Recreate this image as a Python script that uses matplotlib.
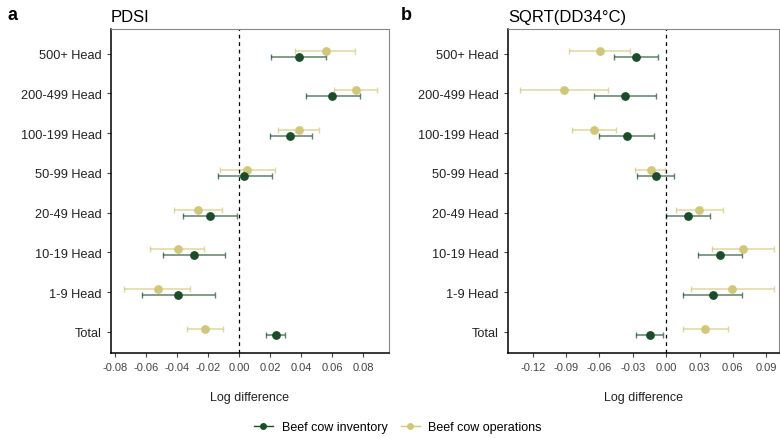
import numpy as np
import matplotlib.pyplot as plt
from matplotlib.lines import Line2D

cats = ['Total', '1-9 Head', '10-19 Head', '20-49 Head', '50-99 Head',
        '100-199 Head', '200-499 Head', '500+ Head']

# PDSI panel: estimate, lower, upper (order follows cats)
pdsi_inv = [0.0235, -0.0391, -0.029, -0.0187, 0.0032, 0.0331, 0.060, 0.0385]
pdsi_inv_lo = [0.017, -0.0623, -0.0488, -0.0365, -0.0139, 0.0198, 0.0428, 0.0205]
pdsi_inv_hi = [0.0297, -0.0155, -0.009, -0.0013, 0.0213, 0.0471, 0.078, 0.0561]
pdsi_ops = [-0.0217, -0.0525, -0.0397, -0.0268, 0.005, 0.0383, 0.0755, 0.0557]
pdsi_ops_lo = [-0.0333, -0.0742, -0.0576, -0.0423, -0.0122, 0.0248, 0.0613, 0.0357]
pdsi_ops_hi = [-0.0103, -0.0314, -0.0226, -0.011, 0.0232, 0.0516, 0.0888, 0.0749]

# SQRT(DD34) panel
dd_inv = [-0.015, 0.042, 0.0483, 0.0198, -0.009, -0.0354, -0.0372, -0.0267]
dd_inv_lo = [-0.0267, 0.0153, 0.0288, 0.0, -0.0258, -0.0607, -0.0652, -0.0465]
dd_inv_hi = [-0.0033, 0.0682, 0.0679, 0.0396, 0.0072, -0.0111, -0.009, -0.0072]
dd_ops = [0.0351, 0.0589, 0.0688, 0.0297, -0.0141, -0.0649, -0.0919, -0.0598]
dd_ops_lo = [0.0153, 0.0219, 0.0411, 0.009, -0.0276, -0.0844, -0.1312, -0.0877]
dd_ops_hi = [0.0553, 0.097, 0.097, 0.0514, -0.0009, -0.045, -0.0523, -0.0321]

pdsi_ticks = [-0.08, -0.06, -0.04, -0.02, 0.0, 0.02, 0.04, 0.06, 0.08]
dd_ticks = [-0.12, -0.09, -0.06, -0.03, 0.0, 0.03, 0.06, 0.09]

green = '#1b4d2b'
khaki = '#d1c77b'

plt.rcParams['font.family'] = ['Liberation Sans', 'DejaVu Sans']


def panel(ax, inv, inv_lo, inv_hi, ops, ops_lo, ops_hi, ticks, xlim):
    y = np.arange(1, len(cats) + 1)
    d = 0.075
    inv = np.array(inv); ops = np.array(ops)
    ax.errorbar(ops, y + d, xerr=[ops - np.array(ops_lo), np.array(ops_hi) - ops],
                fmt='none', ecolor=khaki, alpha=0.7, elinewidth=1.1, capsize=2.5, capthick=1)
    ax.errorbar(inv, y - d, xerr=[inv - np.array(inv_lo), np.array(inv_hi) - inv],
                fmt='none', ecolor=green, alpha=0.7, elinewidth=1.1, capsize=2.5, capthick=1)
    ax.plot(ops, y + d, 'o', color=khaki, ms=5.3, zorder=3)
    ax.plot(inv, y - d, 'o', color=green, ms=5.3, zorder=3)
    ax.axvline(0, color='black', linestyle=(0, (3, 3)), linewidth=0.9)
    ax.set_yticks(y)
    ax.set_yticklabels(cats, fontsize=9.2, color='#222222')
    ax.set_xticks(ticks)
    ax.set_xticklabels(['%.2f' % t for t in ticks], fontsize=8, color='#444444')
    ax.set_xlim(xlim)
    ax.set_ylim(0.47, 8.62)
    ax.set_xlabel('Log difference', fontsize=9, labelpad=14, color='#222222')
    ax.tick_params(length=3, color='#444444')
    for s in ['top', 'right']:
        ax.spines[s].set_color('#888888')
    for s in ['left', 'bottom']:
        ax.spines[s].set_color('black')
        ax.spines[s].set_linewidth(1.1)


fig = plt.figure(figsize=(7.8, 4.39), dpi=100)
ax1 = fig.add_axes([111 / 780, 1 - 354 / 439, 278 / 780, 324 / 439])
ax2 = fig.add_axes([508 / 780, 1 - 354 / 439, 271 / 780, 324 / 439])

panel(ax1, pdsi_inv, pdsi_inv_lo, pdsi_inv_hi, pdsi_ops, pdsi_ops_lo, pdsi_ops_hi,
      pdsi_ticks, (-0.0826, 0.0966))
panel(ax2, dd_inv, dd_inv_lo, dd_inv_hi, dd_ops, dd_ops_lo, dd_ops_hi,
      dd_ticks, (-0.1423, 0.1015))

ax1.set_title('PDSI', loc='left', fontsize=12, pad=6)
ax2.set_title('SQRT(DD34°C)', loc='left', fontsize=12, pad=6)
fig.text(8 / 780, 1 - 15 / 439, 'a', fontsize=13, fontweight='bold', va='center')
fig.text(401 / 780, 1 - 15 / 439, 'b', fontsize=13, fontweight='bold', va='center')

handles = [Line2D([], [], color=green, marker='o', ms=4, lw=1),
           Line2D([], [], color=khaki, marker='o', ms=4, lw=1)]
fig.legend(handles, ['Beef cow inventory', 'Beef cow operations'], loc='center',
           bbox_to_anchor=(398 / 780, 1 - 428 / 439), ncol=2, frameon=False,
           fontsize=9, handlelength=1.5, handletextpad=0.7, columnspacing=1.1)

plt.savefig('out.png', dpi=100)
